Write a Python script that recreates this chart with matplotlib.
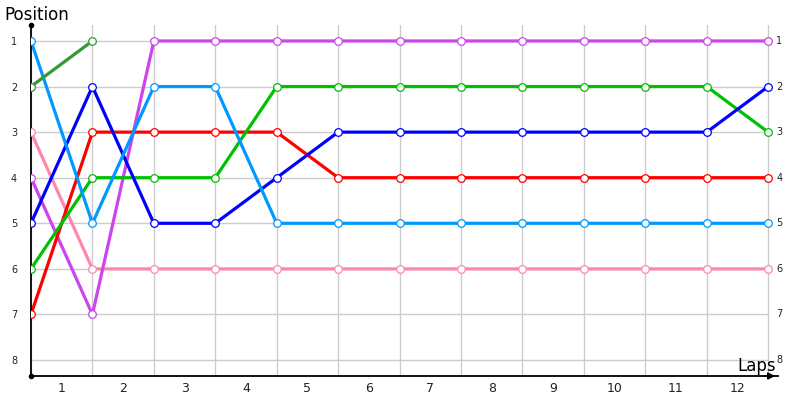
import matplotlib
matplotlib.use("Agg")
import matplotlib.pyplot as plt

laps = list(range(0, 13))
lap_labels = [str(i) for i in range(1, 13)]
positions = [1, 2, 3, 4, 5, 6, 7, 8]

dark_green = [2, 1]
light_blue = [1, 5, 2, 2, 5, 5, 5, 5, 5, 5, 5, 5, 5]
blue = [5, 2, 5, 5, 4, 3, 3, 3, 3, 3, 3, 3, 2]
red = [7, 3, 3, 3, 3, 4, 4, 4, 4, 4, 4, 4, 4]
green = [6, 4, 4, 4, 2, 2, 2, 2, 2, 2, 2, 2, 3]
pink = [3, 6, 6, 6, 6, 6, 6, 6, 6, 6, 6, 6, 6]
purple = [4, 7, 1, 1, 1, 1, 1, 1, 1, 1, 1, 1, 1]

series = [
    (pink, "#ff88aa"),
    (purple, "#cc44ee"),
    (red, "#ff0000"),
    (green, "#00c000"),
    (blue, "#0000ff"),
    (light_blue, "#0099ff"),
    (dark_green, "#339933"),
]

fig = plt.figure(figsize=(8, 4), dpi=100)
ax = fig.add_axes([31/800, 24/400, 747/800, 351/400])
ax.set_xlim(0, 12.16)
ax.set_ylim(8.35, 0.65)

for x in laps:
    ax.axvline(x, color="#cccccc", lw=1, zorder=0)
ax.hlines(positions, 0, 12, color="#cccccc", lw=1, zorder=0)

for vals, col in series:
    xs = laps[:len(vals)]
    ax.plot(xs, vals, color=col, lw=2.3, zorder=2, solid_capstyle="round")
    ax.plot(xs, vals, ls="none", marker="o", ms=5.5, mfc="white", mec=col,
            mew=0.9, zorder=3)

for s in ["top", "right"]:
    ax.spines[s].set_visible(False)
for s in ["left", "bottom"]:
    ax.spines[s].set_linewidth(1.3)
    ax.spines[s].set_color("black")

ax.set_yticks(positions)
ax.set_yticklabels([str(p) for p in positions], fontsize=7, color="#222222")
ax.tick_params(axis="y", length=0, pad=10)
ax.set_xticks([i + 0.5 for i in range(12)])
ax.set_xticklabels(lap_labels, fontsize=9, color="#222222")
ax.tick_params(axis="x", length=0, pad=4)

for p in positions:
    ax.text(12.13, p, str(p), fontsize=7, color="#222222", va="center", ha="left",
            clip_on=False)

ax.plot([0], [0.65], "o", color="black", ms=3, clip_on=False, zorder=5)
ax.plot([0], [8.35], "o", color="black", ms=3, clip_on=False, zorder=5)
ax.annotate("", xy=(12.16, 8.35), xytext=(11.9, 8.35),
            arrowprops=dict(arrowstyle="-|>", color="black", lw=1.2,
                            mutation_scale=10), annotation_clip=False)

fig.text(4/800, 1 - 15/400, "Position", fontsize=12, ha="left", va="center")
fig.text(776/800, 1 - 366/400, "Laps", fontsize=12, ha="right", va="center")

fig.savefig("out.png", dpi=100)
